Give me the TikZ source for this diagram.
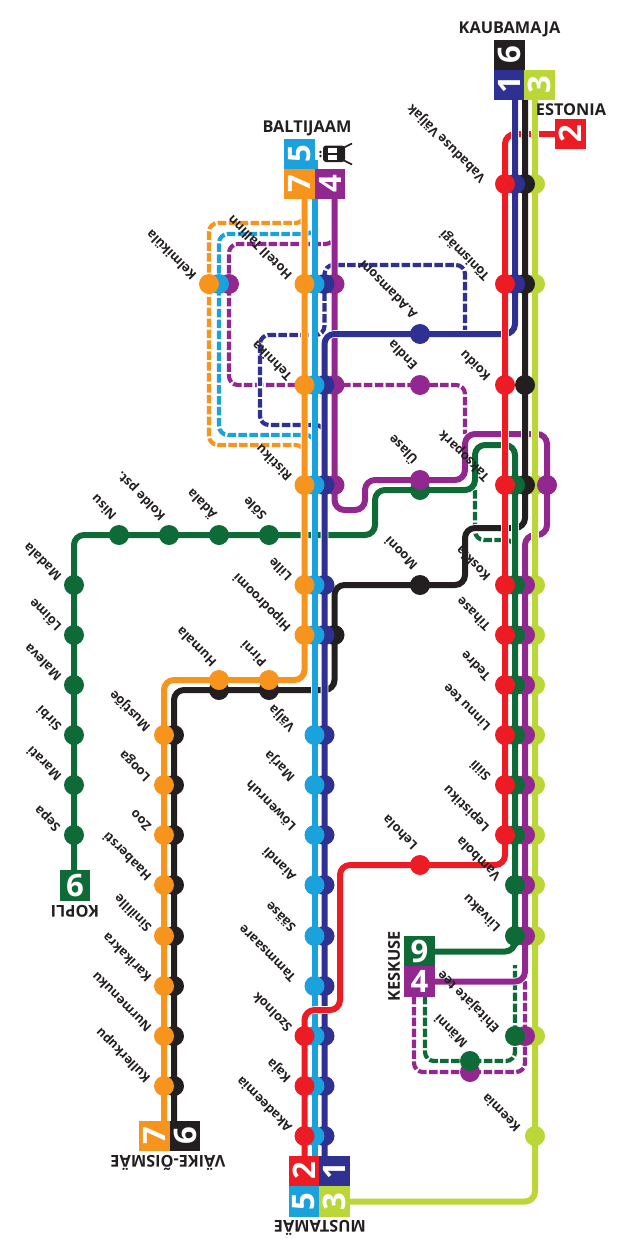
\documentclass[tikz,border=0pt]{standalone}
\usepackage{graphicx}
\usepackage{fontspec}
\setmainfont{Open Sans}
\definecolor{cOr}{HTML}{F7941D}
\definecolor{cLb}{HTML}{1BA1DB}
\definecolor{cBl}{HTML}{2E3192}
\definecolor{cPu}{HTML}{92278F}
\definecolor{cRe}{HTML}{ED1C24}
\definecolor{cLi}{HTML}{BBD637}
\definecolor{cGr}{HTML}{0E6B38}
\definecolor{cBk}{HTML}{231F20}
\pgfdeclarelayer{lines}
\pgfsetlayers{lines,main}
\tikzset{
  stopdot/.style={circle,minimum size=20pt,inner sep=0pt},
  tilebox/.style={rectangle,minimum size=30.6pt,inner sep=0pt},
  tilenum/.style={inner sep=0pt,text=white,font=\bfseries\fontsize{31}{31}\selectfont},
  lab/.style={rotate=135,anchor=west,inner sep=0pt,text=cBk,font=\bfseries\fontsize{12.8}{13}\selectfont},
  head/.style={inner sep=0pt,text=cBk,font=\bfseries\fontsize{16.3}{17}\selectfont},
  route/.style={line width=6pt,rounded corners=10pt,preaction={draw=white,line width=7.6pt}},
  dash route/.style={line width=4.2pt,rounded corners=9pt,dash pattern=on 8.5pt off 2.4pt,preaction={draw=white,solid,line width=6.2pt}}
}
\newcommand\lbl[5]{\node[lab] (#1) at ([shift={(#3,#4)}]#2.center) {#5};}
\newcommand\tbox[6]{\node[tilebox,fill=#2] (#1) at (#3,#4) {};\node[tilenum,rotate=#5] (#1n) at (#1.center) {#6};}
\begin{document}
\begin{tikzpicture}[x=1pt,y=-1pt]
\useasboundingbox (0,0) rectangle (630,1239);
% ---- stops, lowest first
\foreach \y in {184,284,485,585,635,685,735,785,835,885,936,1036,1136} \node[stopdot,fill=cLi] (li\y) at (535,\y) {};
\node[stopdot,fill=cPu] (pr485) at (547,485) {};
\foreach \y in {184,284,385,485} \node[stopdot,fill=cBk] (bk\y) at (525,\y) {};
\foreach \y in {585,635,685,735,785,835,885,936,1036} \node[stopdot,fill=cPu] (pr\y) at (525,\y) {};
\foreach \y in {184,284} \node[stopdot,fill=cBl] (bu\y) at (515,\y) {};
\foreach \y in {485,585,635,685,735,785,835,885,936,1036} \node[stopdot,fill=cGr] (gn\y) at (515,\y) {};
\foreach \y in {184,284,385,485,585,635,685,735,785,835} \node[stopdot,fill=cRe] (re\y) at (505,\y) {};
\node[stopdot,fill=cBl] (adamsoni) at (420,334) {};
\node[stopdot,fill=cPu] (endla) at (420,385) {};
\node[stopdot,fill=cGr] (ulaseg) at (420,490) {};
\node[stopdot,fill=cPu] (ulase) at (420,480) {};
\node[stopdot,fill=cBk] (mooni) at (420,585) {};
\node[stopdot,fill=cRe] (lehola) at (420,865) {};
\node[stopdot,fill=cPu] (mannip) at (470,1072) {};
\node[stopdot,fill=cGr] (mannig) at (470,1061) {};
\foreach \x in {119,169,219,269} \node[stopdot,fill=cGr] (gh\x) at (\x,535) {};
\foreach \y in {585,635,685,735,785,835} \node[stopdot,fill=cGr] (gv\y) at (74,\y) {};
\node[stopdot,fill=cBk] (bk635l) at (334.5,635) {};
\foreach \y in {284,385,485} \node[stopdot,fill=cPu] (pu\y) at (334.5,\y) {};
\foreach \y in {284,385,485,585,635,735,785,835,885,936,986,1036,1086,1136} \node[stopdot,fill=cBl] (bl\y) at (324.5,\y) {};
\foreach \y in {284,385,485,585,635,735,785,835,885,936,986,1036,1086,1136} \node[stopdot,fill=cLb] (lb\y) at (314.5,\y) {};
\foreach \y in {284,385,485,585,635} \node[stopdot,fill=cOr] (or\y) at (304.5,\y) {};
\foreach \y in {1036,1086,1136} \node[stopdot,fill=cRe] (rd\y) at (304.5,\y) {};
\node[stopdot,fill=cPu] (kelp) at (229,284) {};
\node[stopdot,fill=cLb] (kell) at (219,284) {};
\node[stopdot,fill=cOr] (kelo) at (209,284) {};
\foreach \x in {219,269} {\node[stopdot,fill=cBk] (bh\x) at (\x,690) {}; \node[stopdot,fill=cOr] (oh\x) at (\x,680) {};}
\foreach \y in {735,785,835,885,936,986,1036,1086} {\node[stopdot,fill=cBk] (bv\y) at (174,\y) {}; \node[stopdot,fill=cOr] (ov\y) at (164,\y) {};}
% ---- terminus tiles
\tbox{k6}{cBk}{509.5}{55}{90}{6}
\tbox{k1}{cBl}{509.5}{85}{90}{1}
\tbox{k3}{cLi}{539.5}{85}{90}{3}
\tbox{e2}{cRe}{570.5}{134}{90}{2}
\tbox{b5}{cLb}{299.5}{154}{90}{5}
\tbox{b7}{cOr}{299.5}{184}{90}{7}
\tbox{b4}{cPu}{330}{184}{90}{4}
\tbox{m2}{cRe}{304}{1171}{90}{2}
\tbox{m1}{cBl}{334.5}{1171}{90}{1}
\tbox{m5}{cLb}{304}{1201.5}{90}{5}
\tbox{m3}{cLi}{334.5}{1201.5}{90}{3}
\tbox{v7}{cOr}{154.5}{1136}{90}{7}
\tbox{v6}{cBk}{185}{1136}{90}{6}
\tbox{s9}{cGr}{419.5}{951.5}{0}{9}
\tbox{s4}{cPu}{419.5}{981.5}{0}{4}
\tbox{kp9}{cGr}{75}{885.5}{180}{9}
% ---- heading labels
\node[head] (hkaub) at (509.5,29) {KAUBAMAJA};
\node[head] (hest) at (571,110) {ESTONIA};
\node[head] (hbalt) at (307,128) {BALTIJAAM};
\node[head,rotate=180] (hmust) at (320,1228) {MUSTAMÄE};
\node[head,rotate=180] (hvaik) at (168,1163) {VÄIKE-ÕISMÄE};
\node[head,rotate=180] (hkop) at (75,911) {KOPLI};
\node[head,rotate=90] (hkesk) at (394,966) {KESKUSE};
% ---- stop labels
\lbl{t1}{re184}{-21}{-4}{Vabaduse Väljak}
\lbl{t2}{re284}{-17}{-6}{Tõnismägi}
\lbl{t3}{re385}{-17}{-6}{Koidu}
\lbl{t4}{re485}{-17}{-6}{Taksopark}
\lbl{t5}{re585}{-17}{-6}{Koskla}
\lbl{t6}{re635}{-17}{-6}{Tihase}
\lbl{t7}{re685}{-17}{-6}{Tedre}
\lbl{t8}{re735}{-17}{-6}{Linnu tee}
\lbl{t9}{re785}{-17}{-6}{Siili}
\lbl{t10}{re835}{-17}{-6}{Lepistiku}
\lbl{t11}{gn885}{-17}{-6}{Vambola}
\lbl{t12}{gn936}{-17}{-6}{Liivaku}
\lbl{t13}{gn1036}{-17}{-6}{Ehitajate tee}
\lbl{t14}{li1136}{-17}{-6}{Keemia}
\lbl{t15}{adamsoni}{-5}{-17}{A.Adamsoni}
\lbl{t16}{endla}{-5}{-17}{Endla}
\lbl{t17}{ulase}{-5}{-17}{Ülase}
\lbl{t18}{mooni}{-5}{-17}{Mooni}
\lbl{t19}{lehola}{-5}{-17}{Lehola}
\lbl{t20}{mannig}{-5}{-15}{Männi}
\lbl{t21}{or284}{-15}{-6}{Hotell Tallinn}
\lbl{t22}{or385}{-15}{-6}{Tehnika}
\lbl{t23}{or485}{-15}{-6}{Ristiku}
\lbl{t24}{or585}{-15}{-6}{Lille}
\lbl{t25}{or635}{-15}{-6}{Hipodroomi}
\lbl{t26}{kelo}{-15}{-6}{Kelmiküla}
\lbl{t27}{lb735}{-21}{-6}{Välja}
\lbl{t28}{lb785}{-21}{-6}{Marja}
\lbl{t29}{lb835}{-21}{-6}{Löwenruh}
\lbl{t30}{lb885}{-21}{-6}{Aiandi}
\lbl{t31}{lb936}{-21}{-6}{Sääse}
\lbl{t32}{lb986}{-21}{-6}{Tammsaare}
\lbl{t33}{rd1036}{-15}{-6}{Szolnok}
\lbl{t34}{rd1086}{-15}{-6}{Kaja}
\lbl{t35}{rd1136}{-15}{-6}{Akadeemia}
\lbl{t36}{gh119}{-5}{-17}{Nisu}
\lbl{t37}{gh169}{-5}{-17}{Kolde pst.}
\lbl{t38}{gh219}{-5}{-17}{Ädala}
\lbl{t39}{gh269}{-5}{-17}{Sõle}
\lbl{t40}{gv585}{-15}{-6}{Madala}
\lbl{t41}{gv635}{-15}{-6}{Lõime}
\lbl{t42}{gv685}{-15}{-6}{Maleva}
\lbl{t43}{gv735}{-15}{-6}{Sirbi}
\lbl{t44}{gv785}{-15}{-6}{Marati}
\lbl{t45}{gv835}{-15}{-6}{Sepa}
\lbl{t46}{oh219}{-5}{-15}{Humala}
\lbl{t47}{oh269}{-5}{-15}{Pirni}
\lbl{t48}{ov735}{-15}{-6}{Mustjõe}
\lbl{t49}{ov785}{-15}{-6}{Looga}
\lbl{t50}{ov835}{-15}{-6}{Zoo}
\lbl{t51}{ov885}{-15}{-6}{Haabersti}
\lbl{t52}{ov936}{-15}{-6}{Sinilille}
\lbl{t53}{ov986}{-15}{-6}{Karikakra}
\lbl{t54}{ov1036}{-15}{-6}{Nurmenuku}
\lbl{t55}{ov1086}{-15}{-6}{Kullerkupu}
% ---- train pictogram
\fill[cBk,rounded corners=3pt] (323,145.5) rectangle (345,162);
\fill[white] (328,148) rectangle (337,153);
\fill[white] (328,155) rectangle (337,159.5);
\fill[cBk] (320.5,152) circle (1.3pt) (320.5,156) circle (1.3pt);
\draw[cBk,line width=1.6pt] (343,148) -- (352,143.5) (343,160) -- (352,164.5);
% ---- lines
\begin{pgfonlayer}{lines}
\coordinate (otop) at (304.5,190);
\coordinate (ltop) at (314.5,160);
\coordinate (ptop) at (334.5,190);
\coordinate (utop) at (515,90);
\coordinate (ktop) at (525,90);
\coordinate (itop) at (535,90);
\coordinate (gbot) at (74,875);
\coordinate (kbot) at (174,1125);
% dashed branches
\draw[dash route,cOr] (304.5,210) |- (209,223) -- (kelo.center) |- (304.5,445) -- (304.5,456);
\draw[dash route,cLb] (314.5,222) |- (219,234) -- (kell.center) |- (314.5,435) -- (314.5,446);
\draw[dash route,cPu] (334.5,232) |- (229,244) -- (kelp.center) |- (endla.center) -| (465,434);
\draw[dash route,cBl] (465,334) |- (324.5,265) -- (bl284.center) |- (260,335) |- (324.5,425) -- (324.5,433);
\draw[dash route,cGr] (475,490) |- (515,540) -- (515,550);
\draw[dash route,cGr] (425,985) |- (mannig.center) -| (gn1036.center) -- (515,965);
\draw[dash route,cPu] (414,985) |- (mannip.center) -| (pr1036.center) -- (525,975);
% solid lines
\draw[route,cRe] (e2.center) -| (re184.center);
\draw[route,cPu] (ptop) -- (pu485.center) |- (365,510) |- (ulase.center) -| (465,434) -| (pr485.center) |- (525,535) -- (pr585.center) -- (pr936.center) |- (s4.center);
\draw[route,cBk] (ktop) -- (bk485.center) |- (465,528) |- (mooni.center) -| (bk635l.center) |- (bh269.center) -- (bh219.center) -| (bv735.center) -- (kbot);
\draw[route,cGr] (gbot) -- (gv585.center) |- (gh119.center) -- (gh269.center) -| (375,490) -- (ulaseg.center) -| (475,445) -| (gn485.center) -- (gn936.center) |- (s9.center);
\draw[route,cOr] (otop) -- (or635.center) |- (oh269.center) -- (oh219.center) -| (ov735.center) -- (ov1086.center) -- (164,1125);
\draw[route,cLb] (ltop) -- (lb1136.center) -- (314.5,1175);
\draw[route,cBl] (utop) -- (bu284.center) |- (adamsoni.center) -| (bl385.center) -- (bl1136.center) -- (324.5,1165);
\draw[route,cRe] (re184.center) -- (re835.center) |- (lehola.center) -| (340,1010) -| (rd1036.center) -- (rd1136.center) -- (304.5,1165);
\draw[route,cLi] (itop) -- (li1136.center) |- (m3.center);
\end{pgfonlayer}
\end{tikzpicture}
\end{document}
